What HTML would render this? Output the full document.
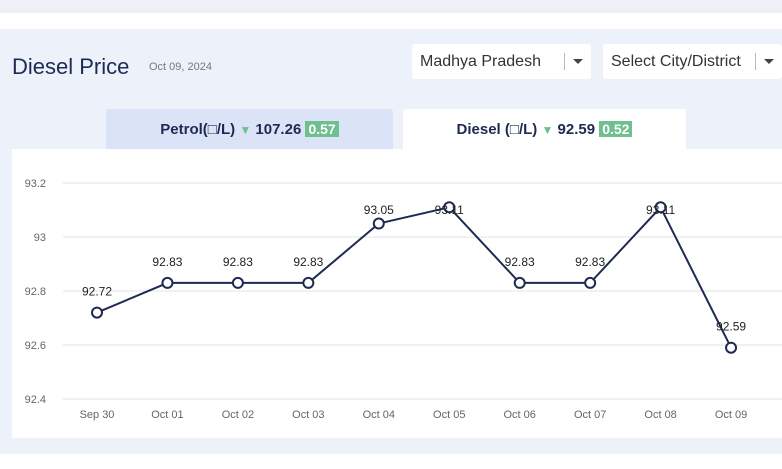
<!DOCTYPE html>
<html><head><meta charset="utf-8"><style>
body{margin:0;width:782px;height:469px;overflow:hidden;background:#fff;font-family:"Liberation Sans",sans-serif;position:relative}
.abs{position:absolute}
.dd{background:#fff;border-radius:3px;height:35px;top:44px;font-size:16px;color:#333;line-height:35px;box-sizing:border-box;padding-left:8px}
.sep{position:absolute;top:9px;width:1px;height:17px;background:#bbb}
.car{position:absolute;top:15px;width:0;height:0;border-left:5px solid transparent;border-right:5px solid transparent;border-top:5px solid #444}
.tab{top:109px;height:40px;line-height:40px;text-align:center;font-weight:bold;font-size:15px;color:#1d2b52;border-radius:3px 3px 0 0}
.badge{background:#6fbf8f;color:#fff;padding:0 3px;font-size:14px}
.tri{color:#6fbf8f;font-size:12px}
</style></head><body>
<div class="abs" style="left:0;top:0;width:782px;height:13px;background:#eef0f7"></div>
<div class="abs" style="left:0;top:29px;width:782px;height:425px;background:#edf1fa"></div>
<div class="abs" style="left:12px;top:54px;font-size:22px;color:#1d2b52">Diesel Price</div>
<div class="abs" style="left:149px;top:61px;font-size:11px;color:#777">Oct 09, 2024</div>
<div class="abs dd" style="left:412px;width:179px">Madhya Pradesh<span class="sep" style="left:152px"></span><span class="car" style="left:161px"></span></div>
<div class="abs dd" style="left:603px;width:179px">Select City/District<span class="sep" style="left:152px"></span><span class="car" style="left:161px"></span></div>
<div class="abs tab" style="left:106px;width:287px;background:#dbe4f6">Petrol(□/L) <span class="tri">▼</span> 107.26 <span class="badge">0.57</span></div>
<div class="abs tab" style="left:403px;width:283px;background:#fff">Diesel (□/L) <span class="tri">▼</span> 92.59 <span class="badge">0.52</span></div>
<div class="abs" style="left:12px;top:149px;width:770px;height:289px;background:#fff"></div>
<svg class="abs" style="left:0;top:0" width="782" height="469" id="chart"></svg>
<script>
const categories=["Sep 30","Oct 01","Oct 02","Oct 03","Oct 04","Oct 05","Oct 06","Oct 07","Oct 08","Oct 09"];
const values=[92.72,92.83,92.83,92.83,93.05,93.11,92.83,92.83,93.11,92.59];
const yTicks=[92.4,92.6,92.8,93,93.2];
const ns="http://www.w3.org/2000/svg",svg=document.getElementById("chart");
const x=i=>97+i*70.45, y=v=>399-(v-92.4)*270;
function mk(t,a,txt){const e=document.createElementNS(ns,t);for(const k in a)e.setAttribute(k,a[k]);if(txt!=null)e.textContent=txt;svg.appendChild(e);return e;}
yTicks.forEach(t=>{
const g=mk("line",{x1:63,x2:782,y1:y(t),y2:y(t),stroke:"#e3e3e3","stroke-width":1});


const l=mk("text",{x:46,y:y(t)+4,"text-anchor":"end","font-size":11,fill:"#666","font-family":"Liberation Sans"},String(t));


});
categories.forEach((c,i)=>{
const l=mk("text",{x:x(i),y:418,"text-anchor":"middle","font-size":11,fill:"#666","font-family":"Liberation Sans"},c);


});
const p=mk("polyline",{points:values.map((v,i)=>x(i)+","+y(v)).join(" "),fill:"none",stroke:"#1d2b52","stroke-width":2});


values.forEach((v,i)=>{
const c=mk("circle",{cx:x(i),cy:y(v),r:5,fill:"#fff",stroke:"#1d2b52","stroke-width":2});


const t=mk("text",{x:x(i),y:Math.max(y(v)-17,214),"text-anchor":"middle","font-size":12,fill:"#222","font-family":"Liberation Sans"},v.toFixed(2));


});
</script>
</body></html>
